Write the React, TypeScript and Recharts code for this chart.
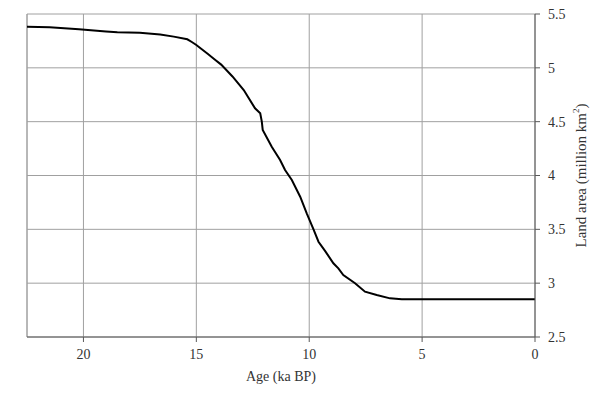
import React from 'react';
import {
  LineChart,
  Line,
  XAxis,
  YAxis,
  CartesianGrid,
  ReferenceLine,
  Label,
} from 'recharts';

// age in ka BP
const ages = [
  22.5, 21.5, 20.2, 19, 18.5, 17.5, 16.6, 16, 15.4, 15.2, 15, 14.5, 14.2, 13.9,
  13.4, 12.9, 12.4, 12.17, 12.1, 12.06, 11.66, 11.29, 11.07, 10.77, 10.4, 10.11,
  9.81, 9.59, 9.3, 8.93, 8.71, 8.49, 7.97, 7.53, 7.01, 6.42, 5.9, 0,
];
// land area, million km2
const landArea = [
  5.382, 5.378, 5.358, 5.338, 5.33, 5.325, 5.31, 5.29, 5.265, 5.24, 5.212, 5.13,
  5.08, 5.03, 4.92, 4.794, 4.624, 4.578, 4.5, 4.423, 4.267, 4.144, 4.051,
  3.958, 3.803, 3.649, 3.5, 3.385, 3.3, 3.185, 3.138, 3.076, 2.999, 2.921, 2.89,
  2.859, 2.85, 2.85,
];
const xTicks = [20, 15, 10, 5, 0];
const yTicks = [2.5, 3, 3.5, 4, 4.5, 5, 5.5];

const data = ages.map((age, i) => ({ age, area: landArea[i] }));

const axisColor = '#595959';
const gridColor = '#a0a0a0';
const textColor = '#333';

const YTitle = ({ viewBox }: any) => {
  const cx = viewBox.x + 46;
  const cy = viewBox.y + viewBox.height / 2;
  return (
    <text
      x={cx}
      y={cy}
      transform={`rotate(-90, ${cx}, ${cy})`}
      textAnchor="middle"
      dominantBaseline="central"
      fill={textColor}
      fontSize={15}
      fontFamily="'Liberation Serif', serif"
    >
      Land area (million km
      <tspan dy={-5} fontSize={9}>2</tspan>
      <tspan dy={5}>)</tspan>
    </text>
  );
};

export default function App() {
  return (
    <div style={{ position: 'absolute', left: 0, top: 0, background: '#fff' }}>
      <LineChart
        width={603}
        height={399}
        data={data}
        margin={{ top: 14, left: 27, right: 8, bottom: 32 }}
        style={{ fontFamily: "'Liberation Serif', serif" }}
      >
        <CartesianGrid stroke={gridColor} fill="none" />
        <ReferenceLine x={22.5} stroke={gridColor} />
        <XAxis
          dataKey="age"
          type="number"
          domain={[0, 22.5]}
          reversed
          ticks={xTicks}
          interval={0}
          height={30}
          tickSize={5}
          tickMargin={7}
          stroke={axisColor}
          tick={{ fill: textColor, fontSize: 14 }}
        >
          <Label
            value="Age (ka BP)"
            position="bottom"
            offset={4}
            fill={textColor}
            fontSize={14}
          />
        </XAxis>
        <YAxis
          orientation="right"
          type="number"
          domain={[2.5, 5.5]}
          ticks={yTicks}
          interval={0}
          width={60}
          tickSize={5}
          tickMargin={8}
          stroke={axisColor}
          tick={{ fill: textColor, fontSize: 14 }}
        >
          <Label content={<YTitle />} />
        </YAxis>
        <Line
          type="linear"
          dataKey="area"
          stroke="#000"
          strokeWidth={2}
          dot={false}
          isAnimationActive={false}
        />
      </LineChart>
    </div>
  );
}
